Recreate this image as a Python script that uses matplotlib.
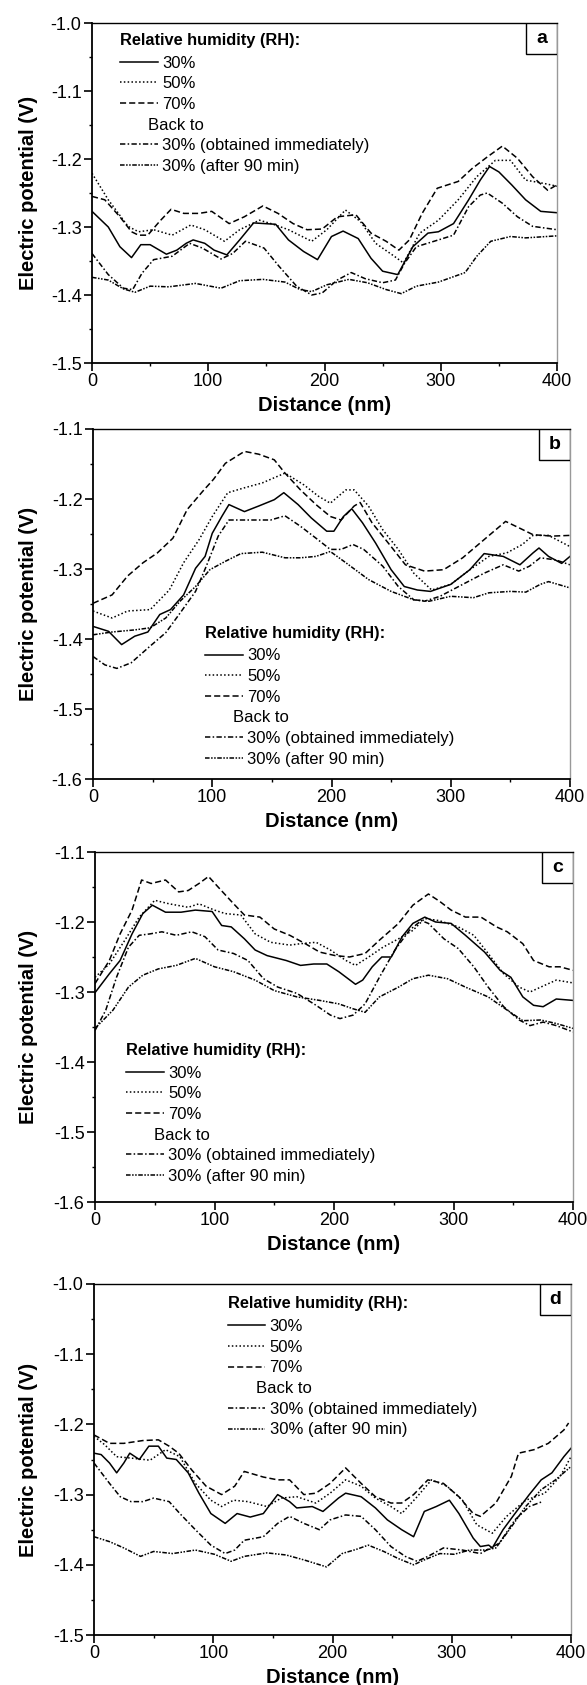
import matplotlib
matplotlib.use("Agg")
import matplotlib.pyplot as plt
from matplotlib.lines import Line2D
from matplotlib.patches import Rectangle
from matplotlib.ticker import MultipleLocator
from matplotlib.transforms import ScaledTranslation

plt.rcParams['font.family'] = ['Liberation Sans', 'DejaVu Sans']
plt.rcParams['axes.unicode_minus'] = False

labels = ["30%", "50%", "70%", "30% (obtained immediately)", "30% (after 90 min)"]
panel_letters = ["a", "b", "c", "d"]
ylims = [(-1.5, -1.0), (-1.6, -1.1), (-1.6, -1.1), (-1.5, -1.0)]

# ---- panel a ----
a_x_30 = [0, 14, 24, 34, 42, 50, 64, 73, 81, 87, 97, 105, 116, 127, 139, 158, 169, 182, 194, 206, 216, 229, 240, 250, 263, 276, 289, 298, 311, 324, 334, 342, 350, 361, 373, 386, 400]
a_y_30 = [-1.277, -1.300, -1.329, -1.345, -1.326, -1.326, -1.340, -1.334, -1.324, -1.319, -1.324, -1.334, -1.341, -1.319, -1.294, -1.296, -1.319, -1.336, -1.348, -1.314, -1.306, -1.317, -1.346, -1.365, -1.370, -1.329, -1.309, -1.307, -1.295, -1.260, -1.231, -1.211, -1.219, -1.238, -1.260, -1.277, -1.279]
a_x_50 = [0, 14, 31, 40, 53, 69, 85, 97, 114, 127, 144, 156, 169, 189, 202, 218, 231, 244, 260, 268, 282, 298, 315, 331, 347, 360, 373, 389, 400]
a_y_50 = [-1.221, -1.260, -1.299, -1.307, -1.304, -1.312, -1.297, -1.304, -1.321, -1.304, -1.290, -1.296, -1.304, -1.321, -1.304, -1.275, -1.292, -1.324, -1.343, -1.353, -1.309, -1.290, -1.260, -1.226, -1.202, -1.202, -1.231, -1.236, -1.240]
a_x_70 = [0, 11, 24, 34, 40, 48, 58, 68, 79, 92, 103, 118, 131, 147, 160, 173, 185, 198, 211, 227, 240, 253, 264, 273, 284, 297, 315, 327, 340, 353, 366, 379, 392, 400]
a_y_70 = [-1.255, -1.260, -1.285, -1.307, -1.312, -1.312, -1.292, -1.274, -1.280, -1.280, -1.277, -1.295, -1.285, -1.269, -1.280, -1.295, -1.304, -1.303, -1.285, -1.282, -1.309, -1.321, -1.334, -1.319, -1.280, -1.243, -1.233, -1.214, -1.197, -1.181, -1.199, -1.226, -1.246, -1.238]
a_x_imm = [0, 14, 27, 35, 43, 53, 69, 84, 95, 111, 121, 132, 148, 161, 176, 189, 198, 211, 223, 235, 250, 261, 269, 279, 298, 311, 324, 334, 340, 353, 366, 379, 400]
a_y_imm = [-1.339, -1.370, -1.390, -1.392, -1.368, -1.348, -1.343, -1.324, -1.331, -1.347, -1.339, -1.321, -1.331, -1.358, -1.387, -1.400, -1.397, -1.378, -1.367, -1.376, -1.382, -1.378, -1.353, -1.329, -1.319, -1.312, -1.270, -1.253, -1.250, -1.265, -1.285, -1.299, -1.304]
a_x_90 = [0, 14, 27, 37, 50, 66, 89, 111, 127, 147, 166, 179, 189, 202, 221, 237, 253, 266, 279, 298, 321, 331, 343, 360, 373, 400]
a_y_90 = [-1.374, -1.378, -1.391, -1.396, -1.387, -1.388, -1.383, -1.390, -1.379, -1.377, -1.381, -1.392, -1.395, -1.385, -1.377, -1.382, -1.392, -1.398, -1.387, -1.381, -1.367, -1.343, -1.321, -1.314, -1.316, -1.313]

# ---- panel b ----
b_x_30 = [0, 13, 24, 35, 46, 56, 65, 76, 86, 94, 100, 108, 114, 127, 139, 152, 160, 172, 183, 196, 202, 210, 217, 226, 237, 250, 261, 272, 283, 300, 316, 328, 344, 358, 369, 374, 382, 393, 400]
b_y_30 = [-1.382, -1.389, -1.408, -1.396, -1.390, -1.365, -1.358, -1.337, -1.299, -1.282, -1.249, -1.225, -1.208, -1.218, -1.210, -1.201, -1.191, -1.208, -1.227, -1.246, -1.246, -1.225, -1.214, -1.234, -1.263, -1.301, -1.325, -1.330, -1.332, -1.322, -1.301, -1.278, -1.282, -1.294, -1.277, -1.270, -1.282, -1.292, -1.282]
b_x_50 = [0, 16, 29, 48, 64, 76, 89, 100, 113, 127, 142, 161, 177, 189, 199, 212, 219, 231, 243, 256, 269, 284, 300, 316, 332, 347, 360, 369, 382, 400]
b_y_50 = [-1.360, -1.370, -1.360, -1.358, -1.330, -1.291, -1.258, -1.225, -1.191, -1.184, -1.177, -1.163, -1.180, -1.196, -1.206, -1.187, -1.187, -1.210, -1.244, -1.272, -1.306, -1.330, -1.322, -1.301, -1.282, -1.277, -1.265, -1.252, -1.252, -1.268]
b_x_70 = [0, 16, 29, 42, 54, 67, 79, 92, 101, 111, 127, 139, 152, 161, 174, 187, 199, 208, 219, 224, 234, 250, 262, 278, 294, 310, 328, 346, 357, 369, 385, 400]
b_y_70 = [-1.349, -1.337, -1.310, -1.291, -1.277, -1.256, -1.215, -1.189, -1.172, -1.149, -1.132, -1.136, -1.144, -1.163, -1.187, -1.208, -1.225, -1.230, -1.210, -1.205, -1.234, -1.268, -1.294, -1.303, -1.301, -1.284, -1.258, -1.232, -1.241, -1.251, -1.253, -1.252]
b_x_imm = [0, 10, 20, 32, 48, 61, 73, 86, 95, 105, 114, 130, 149, 161, 174, 187, 199, 208, 218, 227, 243, 256, 269, 278, 291, 310, 328, 344, 357, 366, 375, 388, 400]
b_y_imm = [-1.425, -1.437, -1.442, -1.434, -1.410, -1.391, -1.363, -1.332, -1.296, -1.253, -1.230, -1.230, -1.230, -1.224, -1.239, -1.256, -1.272, -1.272, -1.265, -1.272, -1.296, -1.325, -1.344, -1.346, -1.339, -1.322, -1.306, -1.294, -1.303, -1.296, -1.284, -1.287, -1.294]
b_x_90 = [0, 16, 35, 48, 61, 73, 86, 98, 111, 124, 142, 161, 174, 187, 199, 212, 231, 250, 269, 282, 300, 319, 332, 350, 363, 375, 382, 400]
b_y_90 = [-1.394, -1.390, -1.387, -1.384, -1.370, -1.346, -1.325, -1.301, -1.289, -1.278, -1.276, -1.284, -1.284, -1.282, -1.275, -1.291, -1.315, -1.332, -1.344, -1.346, -1.339, -1.341, -1.334, -1.332, -1.333, -1.322, -1.318, -1.327]

# ---- panel c ----
c_x_30 = [0, 12, 21, 31, 40, 48, 59, 72, 84, 98, 106, 114, 125, 134, 144, 160, 172, 183, 194, 204, 218, 224, 232, 240, 248, 257, 266, 276, 285, 298, 310, 326, 339, 348, 358, 367, 375, 386, 400]
c_y_30 = [-1.301, -1.274, -1.255, -1.217, -1.188, -1.176, -1.186, -1.186, -1.183, -1.185, -1.205, -1.207, -1.224, -1.240, -1.248, -1.255, -1.262, -1.260, -1.260, -1.271, -1.289, -1.283, -1.264, -1.250, -1.250, -1.221, -1.202, -1.193, -1.200, -1.202, -1.219, -1.243, -1.269, -1.279, -1.307, -1.319, -1.321, -1.310, -1.312]
c_x_50 = [0, 12, 25, 37, 50, 62, 78, 87, 100, 109, 122, 134, 147, 163, 172, 185, 197, 210, 218, 229, 241, 254, 266, 276, 288, 304, 317, 329, 342, 355, 364, 373, 386, 400]
c_y_50 = [-1.279, -1.260, -1.226, -1.193, -1.169, -1.174, -1.179, -1.174, -1.183, -1.188, -1.190, -1.217, -1.229, -1.233, -1.231, -1.229, -1.240, -1.255, -1.262, -1.250, -1.236, -1.224, -1.212, -1.195, -1.198, -1.207, -1.219, -1.245, -1.274, -1.293, -1.300, -1.293, -1.283, -1.287]
c_x_70 = [0, 12, 21, 31, 39, 47, 59, 70, 78, 87, 95, 103, 116, 125, 138, 150, 163, 176, 188, 201, 213, 226, 238, 254, 266, 279, 288, 298, 310, 323, 336, 345, 358, 367, 380, 389, 400]
c_y_70 = [-1.288, -1.255, -1.217, -1.183, -1.140, -1.145, -1.140, -1.157, -1.155, -1.145, -1.135, -1.150, -1.174, -1.190, -1.193, -1.210, -1.219, -1.231, -1.243, -1.248, -1.250, -1.245, -1.226, -1.202, -1.176, -1.160, -1.170, -1.183, -1.193, -1.193, -1.207, -1.214, -1.231, -1.255, -1.264, -1.264, -1.269]
c_x_imm = [0, 9, 18, 28, 37, 46, 56, 68, 81, 92, 103, 116, 128, 141, 153, 169, 185, 197, 205, 216, 226, 238, 251, 263, 273, 279, 292, 304, 317, 329, 342, 355, 364, 375, 386, 400]
c_y_imm = [-1.355, -1.326, -1.279, -1.236, -1.219, -1.217, -1.214, -1.219, -1.214, -1.221, -1.240, -1.245, -1.255, -1.281, -1.293, -1.302, -1.319, -1.333, -1.338, -1.333, -1.317, -1.279, -1.240, -1.212, -1.198, -1.202, -1.224, -1.238, -1.264, -1.293, -1.321, -1.340, -1.348, -1.343, -1.348, -1.357]
c_x_90 = [0, 15, 28, 40, 53, 68, 84, 100, 116, 134, 150, 169, 188, 204, 216, 226, 238, 254, 266, 279, 295, 310, 329, 345, 358, 373, 386, 400]
c_y_90 = [-1.352, -1.326, -1.293, -1.276, -1.267, -1.262, -1.252, -1.264, -1.271, -1.283, -1.298, -1.307, -1.312, -1.317, -1.324, -1.329, -1.307, -1.293, -1.281, -1.276, -1.281, -1.293, -1.307, -1.326, -1.341, -1.340, -1.345, -1.352]

# ---- panel d ----
d_x_30 = [0, 6, 13, 19, 25, 30, 38, 46, 54, 61, 69, 79, 88, 98, 110, 120, 131, 142, 154, 164, 170, 183, 192, 205, 211, 224, 236, 246, 258, 268, 277, 287, 298, 306, 318, 324, 331, 334, 343, 353, 365, 375, 384, 394, 400]
d_y_30 = [-1.241, -1.243, -1.255, -1.269, -1.255, -1.241, -1.250, -1.231, -1.231, -1.248, -1.250, -1.269, -1.298, -1.327, -1.341, -1.327, -1.332, -1.327, -1.300, -1.310, -1.319, -1.317, -1.324, -1.305, -1.298, -1.303, -1.319, -1.336, -1.350, -1.360, -1.324, -1.317, -1.308, -1.327, -1.362, -1.374, -1.372, -1.376, -1.350, -1.327, -1.300, -1.279, -1.269, -1.246, -1.234]
d_x_50 = [0, 9, 19, 31, 47, 60, 72, 85, 98, 107, 117, 129, 145, 157, 170, 186, 198, 211, 224, 236, 249, 258, 271, 283, 296, 309, 321, 334, 346, 362, 378, 391, 400]
d_y_50 = [-1.217, -1.229, -1.246, -1.248, -1.251, -1.236, -1.246, -1.284, -1.308, -1.317, -1.308, -1.310, -1.317, -1.305, -1.303, -1.312, -1.298, -1.279, -1.288, -1.305, -1.317, -1.327, -1.303, -1.279, -1.288, -1.308, -1.343, -1.355, -1.331, -1.308, -1.298, -1.274, -1.246]
d_x_70 = [0, 13, 25, 41, 54, 63, 71, 82, 94, 107, 118, 126, 142, 154, 164, 176, 186, 198, 211, 224, 236, 249, 258, 268, 280, 293, 306, 318, 324, 337, 350, 356, 369, 381, 394, 398]
d_y_70 = [-1.215, -1.227, -1.227, -1.223, -1.222, -1.231, -1.241, -1.265, -1.288, -1.300, -1.288, -1.267, -1.275, -1.279, -1.279, -1.300, -1.298, -1.284, -1.262, -1.284, -1.303, -1.312, -1.312, -1.300, -1.279, -1.284, -1.303, -1.327, -1.331, -1.312, -1.274, -1.241, -1.236, -1.227, -1.208, -1.198]
d_x_imm = [0, 13, 22, 31, 41, 50, 63, 72, 85, 98, 110, 118, 126, 142, 154, 164, 176, 189, 198, 211, 224, 236, 249, 261, 271, 280, 293, 309, 324, 340, 353, 365, 376]
d_y_imm = [-1.255, -1.284, -1.303, -1.310, -1.310, -1.305, -1.310, -1.327, -1.350, -1.372, -1.384, -1.379, -1.365, -1.360, -1.341, -1.331, -1.341, -1.350, -1.336, -1.329, -1.331, -1.350, -1.374, -1.388, -1.395, -1.388, -1.376, -1.379, -1.384, -1.369, -1.336, -1.317, -1.310]
d_x_90 = [0, 13, 25, 39, 50, 66, 85, 101, 115, 126, 145, 161, 176, 195, 208, 220, 230, 243, 255, 268, 277, 290, 302, 315, 328, 337, 350, 362, 375, 387, 400]
d_y_90 = [-1.360, -1.367, -1.376, -1.388, -1.381, -1.384, -1.379, -1.385, -1.395, -1.388, -1.383, -1.386, -1.393, -1.403, -1.384, -1.378, -1.372, -1.381, -1.391, -1.400, -1.393, -1.384, -1.385, -1.379, -1.379, -1.376, -1.346, -1.317, -1.293, -1.279, -1.260]

panels = [
    [(a_x_30, a_y_30), (a_x_50, a_y_50), (a_x_70, a_y_70), (a_x_imm, a_y_imm), (a_x_90, a_y_90)],
    [(b_x_30, b_y_30), (b_x_50, b_y_50), (b_x_70, b_y_70), (b_x_imm, b_y_imm), (b_x_90, b_y_90)],
    [(c_x_30, c_y_30), (c_x_50, c_y_50), (c_x_70, c_y_70), (c_x_imm, c_y_imm), (c_x_90, c_y_90)],
    [(d_x_30, d_y_30), (d_x_50, d_y_50), (d_x_70, d_y_70), (d_x_imm, d_y_imm), (d_x_90, d_y_90)],
]

styles = ['-', (0, (1, 1.5)), (0, (4, 2)), (0, (3.5, 1.5, 1, 1.5)), (0, (3, 1, 1, 1, 1, 1))]

# axes boxes in pixels (left, top, right, bottom) and legend anchors
W, H = 587, 1685
boxes = [(92, 23, 557, 363), (93, 429, 570, 779), (95, 852, 573, 1202), (94, 1284, 571, 1635)]
legend_anchor = [(0.061, 0.965), (0.235, 0.432), (0.065, 0.449), (0.280, 0.959)]

fig = plt.figure(figsize=(W / 100, H / 100), dpi=100)

for i, (l, t, r, b) in enumerate(boxes):
    ax = fig.add_axes([l / W, 1 - b / H, (r - l) / W, (b - t) / H])
    handles = []
    for (xs, ys), ls in zip(panels[i], styles):
        ln, = ax.plot(xs, ys, color='black', lw=1.1, linestyle=ls)
        handles.append(ln)

    ax.set_xlim(0, 400)
    ax.set_ylim(*ylims[i])
    ax.xaxis.set_major_locator(MultipleLocator(100))
    ax.xaxis.set_minor_locator(MultipleLocator(50))
    ax.yaxis.set_major_locator(MultipleLocator(0.1))
    ax.yaxis.set_minor_locator(MultipleLocator(0.05))
    ax.yaxis.set_major_formatter(plt.FormatStrFormatter('%.1f'))
    ax.tick_params(which='major', direction='out', length=5.5, width=1.2, labelsize=13, pad=2)
    ax.tick_params(which='minor', direction='out', length=2.5, width=1.0)
    for s in ['left', 'bottom']:
        ax.spines[s].set_linewidth(1.3)
    ax.spines['top'].set_linewidth(1.0)
    ax.spines['right'].set_color('#999999')
    ax.spines['right'].set_linewidth(1.0)

    ax.set_xlabel("Distance (nm)", fontsize=14.5, fontweight='bold')
    ax.set_ylabel("Electric potential (V)", fontsize=14.5, fontweight='bold')
    ax.xaxis.set_label_coords(0.5, -33 / (b - t))
    ax.yaxis.set_label_coords((38 - l) / (r - l), 0.5)

    # panel letter box in the top-right corner
    bw = 31 / (r - l)
    bh = 31 / (b - t)
    ax.add_patch(Rectangle((1 - bw, 1 - bh), bw, bh, transform=ax.transAxes,
                           facecolor='white', edgecolor='black', lw=1.0, zorder=5))
    ax.text(1 - bw / 2, 1 - bh / 2, panel_letters[i], transform=ax.transAxes,
            ha='center', va='center', fontsize=14, fontweight='bold', zorder=6)

    blank = Line2D([], [], color='none')
    leg_handles = handles[:3] + [blank] + handles[3:]
    leg_labels = labels[:3] + ["Back to"] + labels[3:]
    leg = ax.legend(leg_handles, leg_labels, title="Relative humidity (RH):",
                    title_fontproperties={'weight': 'bold', 'size': 11.8},
                    alignment='left', loc='upper left', bbox_to_anchor=legend_anchor[i],
                    frameon=False, fontsize=12, handlelength=2.25, handletextpad=0.27,
                    labelspacing=0.34, borderpad=0, borderaxespad=0)
    # "Back to" sits a little to the left of the other entries
    back = leg.get_texts()[3]
    back.set_transform(back.get_transform() + ScaledTranslation(-0.14, 0, fig.dpi_scale_trans))
    title = leg.get_title()
    title.set_transform(title.get_transform() + ScaledTranslation(0, 0.02, fig.dpi_scale_trans))

fig.savefig("out.png", dpi=100)
